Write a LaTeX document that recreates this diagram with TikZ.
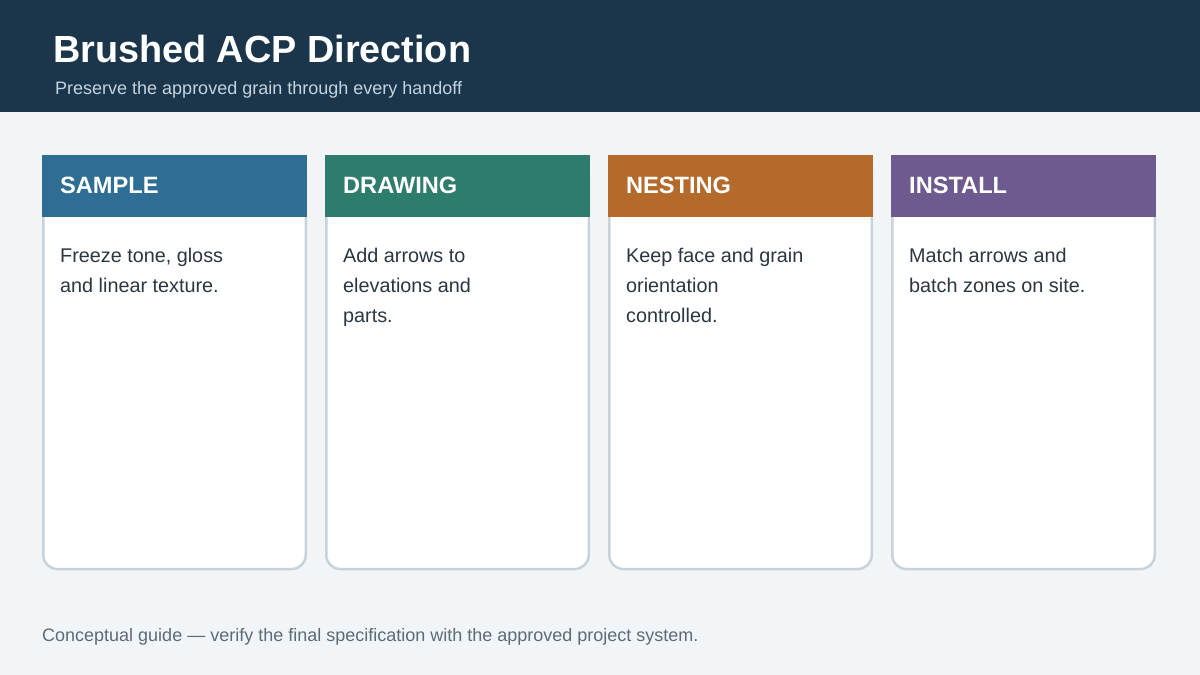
\documentclass[tikz,border=0pt]{standalone}
\usepackage{fontspec}
\setmainfont{Liberation Sans}
\definecolor{bg}{HTML}{F2F5F8}
\definecolor{band}{HTML}{1B364B}
\definecolor{subt}{HTML}{C3D3E0}
\definecolor{cardborder}{HTML}{C8D2D9}
\definecolor{bodytext}{HTML}{2B3640}
\definecolor{foot}{HTML}{5B6B78}
\definecolor{cA}{HTML}{2E6E94}
\definecolor{cB}{HTML}{2E7D6C}
\definecolor{cC}{HTML}{B46A2B}
\definecolor{cD}{HTML}{6D5A8E}
\tikzset{
  cardbody/.style={draw=cardborder, line width=2.5pt, fill=white, rounded corners=14pt},
  headtext/.style={anchor=base west, inner sep=0pt, text=white, font=\fontsize{23.6}{28}\selectfont\bfseries},
  bodytxt/.style={anchor=north west, inner sep=0pt, text=bodytext, align=left, font=\fontsize{19.8}{30}\selectfont},
}
\begin{document}
\begin{tikzpicture}[x=1pt,y=-1pt]
\useasboundingbox (0,0) rectangle (1200,675);
\fill[bg] (0,0) rectangle (1200,675);
\fill[band] (0,0) rectangle (1200,112);
\node[anchor=base west, inner sep=0pt, text=white, font=\fontsize{37.8}{44}\selectfont\bfseries] (title) at (53,62) {Brushed ACP Direction};
\node[anchor=base west, inner sep=0pt, text=subt, font=\fontsize{18}{21}\selectfont] (subtitle) at (55,94) {Preserve the approved grain through every handoff};
\foreach \i/\col/\hd/\bd in {0/cA/SAMPLE/{Freeze tone, gloss\\and linear texture.},
                        1/cB/DRAWING/{Add arrows to\\elevations and\\parts.},
                        2/cC/NESTING/{Keep face and grain\\orientation\\controlled.},
                        3/cD/INSTALL/{Match arrows and\\batch zones on site.}} {
  \pgfmathsetmacro{\xa}{42+283*\i}
  \draw[cardbody] (\xa+1.25,160) rectangle (\xa+263.75,569);
  \fill[\col] (\xa,155) rectangle (\xa+265,217);
  \node[headtext] (head\i) at (\xa+18,193) {\hd};
  \node[bodytxt] (body\i) at (\xa+18,248) {\bd};
}
\node[anchor=base west, inner sep=0pt, text=foot, font=\fontsize{18}{21}\selectfont] (footer) at (42,641) {Conceptual guide — verify the final specification with the approved project system.};
\end{tikzpicture}
\end{document}
